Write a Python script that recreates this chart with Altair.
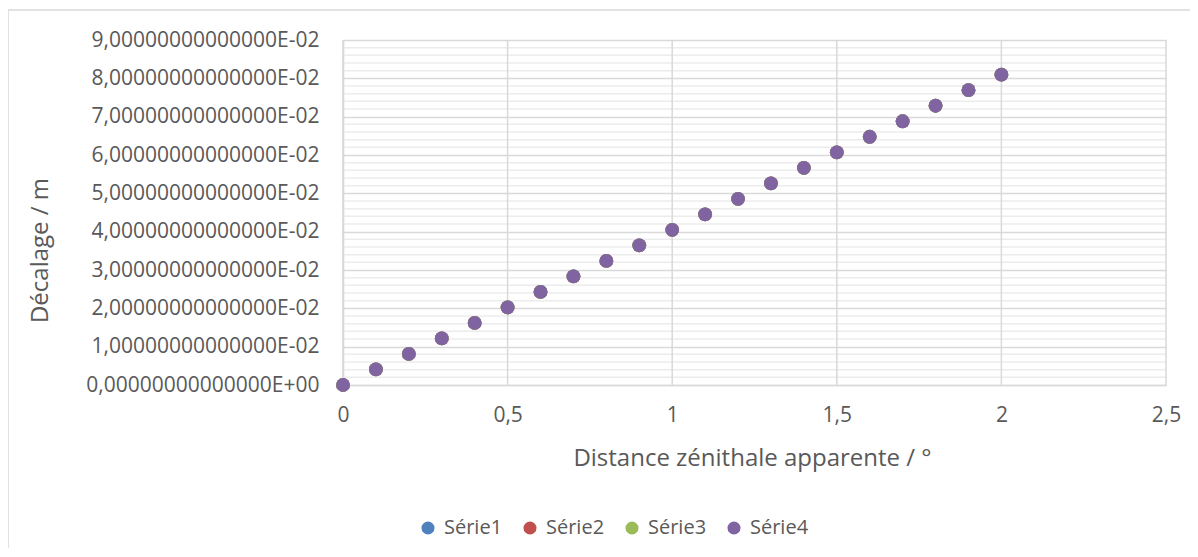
import altair as alt
import pandas as pd

# ---- data ----
distance = [0.0, 0.1, 0.2, 0.3, 0.4, 0.5, 0.6, 0.7, 0.8, 0.9, 1.0,
            1.1, 1.2, 1.3, 1.4, 1.5, 1.6, 1.7, 1.8, 1.9, 2.0]
serie1 = [0.0, 0.00405, 0.0081, 0.01214, 0.01619, 0.02024, 0.02428, 0.02833, 0.03238, 0.03643, 0.04047,
          0.04452, 0.04857, 0.05262, 0.05666, 0.06071, 0.06476, 0.0688, 0.07285, 0.0769, 0.08094]
serie2 = [0.0, 0.00405, 0.0081, 0.01214, 0.01619, 0.02024, 0.02428, 0.02833, 0.03238, 0.03643, 0.04047,
          0.04452, 0.04857, 0.05262, 0.05666, 0.06071, 0.06476, 0.0688, 0.07285, 0.0769, 0.08094]
serie3 = [0.0, 0.00405, 0.0081, 0.01214, 0.01619, 0.02024, 0.02428, 0.02833, 0.03238, 0.03643, 0.04047,
          0.04452, 0.04857, 0.05262, 0.05666, 0.06071, 0.06476, 0.0688, 0.07285, 0.0769, 0.08094]
serie4 = [0.0, 0.00405, 0.0081, 0.01214, 0.01619, 0.02024, 0.02428, 0.02833, 0.03238, 0.03643, 0.04047,
          0.04452, 0.04857, 0.05262, 0.05666, 0.06071, 0.06476, 0.0688, 0.07285, 0.0769, 0.08094]

series_names = ["Série1", "Série2", "Série3", "Série4"]
series_colors = ["#4F81BD", "#C0504D", "#9BBB59", "#8064A2"]

y_ticks = [0.0, 0.01, 0.02, 0.03, 0.04, 0.05, 0.06, 0.07, 0.08, 0.09]
x_ticks = [0.0, 0.5, 1.0, 1.5, 2.0, 2.5]
y_minor = [round(i * 0.002, 3) for i in range(46) if i % 5]

# ---- tables ----
rows = []
for name, vals in zip(series_names, [serie1, serie2, serie3, serie4]):
    for d, v in zip(distance, vals):
        rows.append({"distance": d, "decalage": v, "serie": name})
df = pd.DataFrame(rows)
df_minor = pd.DataFrame({"decalage": y_minor})
df_vgrid = pd.DataFrame({"distance": x_ticks})

FONT = "Open Sans"
TXT = "#595959"
GRID = "#d9d9d9"

xscale = alt.Scale(domain=[0, 2.5], nice=False, zero=False)
yscale = alt.Scale(domain=[0, 0.09], nice=False)

xaxis = alt.Axis(
    values=x_ticks, grid=False, ticks=False, domain=True,
    domainColor=GRID, domainWidth=1.5,
    labelExpr="replace(format(datum.value, '~g'), '.', ',')",
    labelFont=FONT, labelFontSize=21, labelColor=TXT, labelPadding=19,
    labelFlush=False, labelOverlap=False,
    title="Distance zénithale apparente / °",
    titleFont=FONT, titleFontSize=24, titleFontWeight="normal", titleColor=TXT,
    titleX=409, titleY=73, titleBaseline="middle", titleAlign="center",
)
yaxis = alt.Axis(
    values=y_ticks, grid=True, gridColor=GRID, gridWidth=1.5,
    ticks=False, domain=True, domainColor="#cfcfcf", domainWidth=1.5,
    labelExpr="datum.value < 1e-9 ? '0,00000000000000E+00' : format(datum.value * 100, '.0f') + ',00000000000000E-02'",
    labelFont=FONT, labelFontSize=21, labelColor=TXT, labelPadding=24,
    labelLimit=500, labelFlush=False, labelOverlap=False,
    title="Décalage / m",
    titleFont=FONT, titleFontSize=24, titleFontWeight="normal", titleColor=TXT,
    titleX=-303, titleY=210, titleBaseline="middle", titleAlign="center", titleAngle=270,
)

border = alt.Chart(pd.DataFrame({"k": [0]})).mark_rect(
    fillOpacity=0, stroke=GRID, strokeWidth=1.5
).encode(x=alt.value(-335), x2=alt.value(900), y=alt.value(-30), y2=alt.value(600))

minor = alt.Chart(df_minor).mark_rule(color="#ececec", strokeWidth=1.5).encode(
    y=alt.Y("decalage:Q", scale=yscale, axis=yaxis)
)

vgrid = alt.Chart(df_vgrid).mark_rule(color=GRID, strokeWidth=1.5).encode(
    x=alt.X("distance:Q", scale=xscale, axis=xaxis)
)

points = alt.Chart(df).mark_circle(size=190, opacity=1).encode(
    x=alt.X("distance:Q", scale=xscale, axis=xaxis),
    y=alt.Y("decalage:Q", scale=yscale, axis=yaxis),
    color=alt.Color(
        "serie:N",
        scale=alt.Scale(domain=series_names, range=series_colors),
        legend=alt.Legend(
            title=None, orient="none", legendX=75, legendY=478,
            direction="horizontal", columns=4, columnPadding=17,
            symbolType="circle", symbolSize=170, symbolOpacity=1,
            labelFont=FONT, labelFontSize=20, labelColor=TXT, labelOffset=6,
        ),
    ),
)

chart = alt.layer(border, minor, vgrid, points).properties(
    width=823, height=345,
    autosize=alt.AutoSizeParams(type="none"),
    padding={"left": 335, "top": 32, "right": 24, "bottom": 163},
).configure_view(strokeWidth=0)

chart.save("out.html", embed_options={"renderer": "svg", "actions": False})
